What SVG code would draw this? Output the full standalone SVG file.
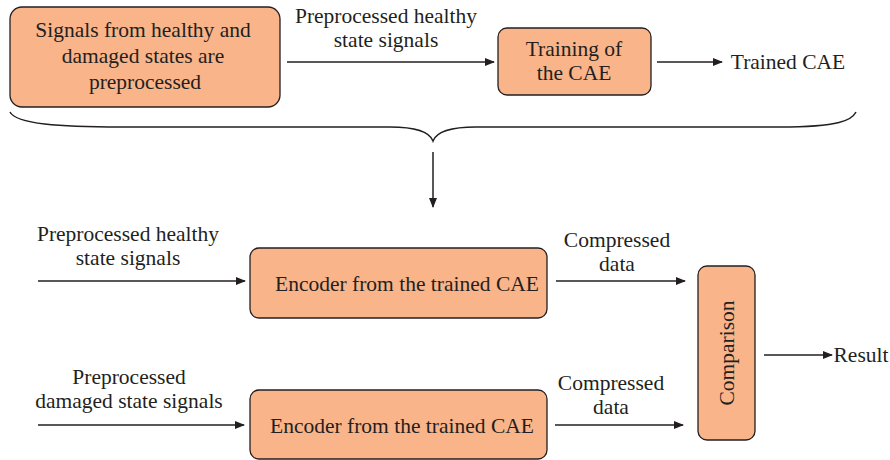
<svg xmlns="http://www.w3.org/2000/svg" width="890" height="460" viewBox="0 0 890 460">
<defs>
<marker id="ah" markerWidth="10" markerHeight="8" refX="9" refY="4" orient="auto" markerUnits="userSpaceOnUse">
<path d="M0,0 L10,4 L0,8 Z" fill="#231f20"/>
</marker>
<style>
.box{fill:#F9B48A;stroke:#231f20;stroke-width:1.3}
.t{font-family:"Liberation Serif","DejaVu Serif",serif;font-size:21.5px;fill:#231f20;text-anchor:middle;dominant-baseline:central}
.ln{stroke:#231f20;stroke-width:1.5;fill:none}
.ar{stroke:#231f20;stroke-width:1.5;fill:none;marker-end:url(#ah)}
</style>
</defs>
<rect width="890" height="460" fill="#fff"/>
<g id="preprocess">
<rect class="box" x="10" y="7" width="270" height="100" rx="12"/>
<text class="t" x="143" y="30">Signals from healthy and</text>
<text class="t" x="143" y="56">damaged states are</text>
<text class="t" x="145" y="82">preprocessed</text>
</g>
<g id="training">
<rect class="box" x="498" y="28" width="153" height="67" rx="9"/>
<text class="t" x="574" y="49">Training of</text>
<text class="t" x="574" y="73">the CAE</text>
</g>
<g id="trained"><text class="t" x="788" y="62">Trained CAE</text></g>
<g id="encoder1">
<rect class="box" x="250" y="248" width="297" height="70" rx="9"/>
<text class="t" x="407" y="284">Encoder from the trained CAE</text>
</g>
<g id="encoder2">
<rect class="box" x="250" y="390" width="297" height="69" rx="9"/>
<text class="t" x="402" y="426">Encoder from the trained CAE</text>
</g>
<g id="comparison">
<rect class="box" x="698" y="266" width="57" height="174" rx="9"/>
<text class="t" transform="translate(727,353) rotate(-90)" x="0" y="0">Comparison</text>
</g>
<g id="result"><text class="t" x="861" y="355">Result</text></g>
<g id="connectors">
<line class="ar" x1="287" y1="62" x2="494" y2="62"/>
<text class="t" x="386" y="16">Preprocessed healthy</text>
<text class="t" x="386" y="40">state signals</text>
<line class="ar" x1="657" y1="62" x2="722" y2="62"/>
<path class="ln" d="M10,112 C16,124 60,127 120,127 L390,127 C420,127 430,133 433,141 C436,133 446,127 476,127 L780,127 C840,127 852,120 856,112"/>
<line class="ar" x1="433" y1="152" x2="433" y2="207"/>
<line class="ar" x1="38" y1="281" x2="245" y2="281"/>
<text class="t" x="128" y="234">Preprocessed healthy</text>
<text class="t" x="128" y="258">state signals</text>
<line class="ar" x1="38" y1="425" x2="244" y2="425"/>
<text class="t" x="129" y="377">Preprocessed</text>
<text class="t" x="129" y="401">damaged state signals</text>
<line class="ar" x1="556" y1="281" x2="685" y2="281"/>
<text class="t" x="617" y="240">Compressed</text>
<text class="t" x="617" y="264">data</text>
<line class="ar" x1="555" y1="425" x2="683" y2="425"/>
<text class="t" x="611" y="383">Compressed</text>
<text class="t" x="611" y="407">data</text>
<line class="ar" x1="764" y1="355" x2="832" y2="355"/>
</g>
</svg>
